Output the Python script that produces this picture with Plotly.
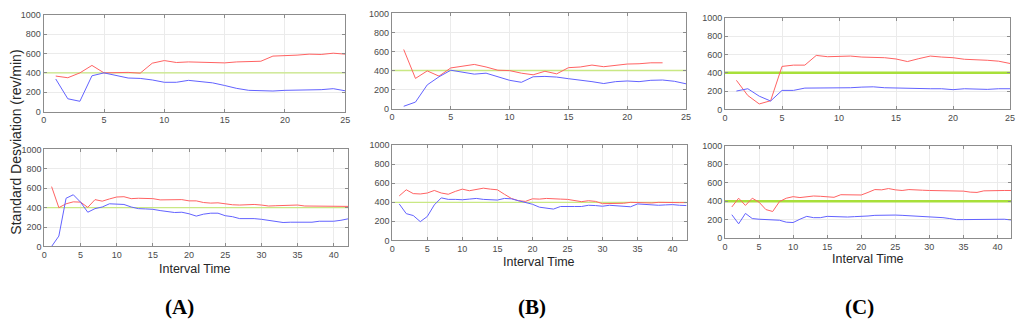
import plotly.graph_objects as go

# ---------------- data ----------------
x25 = list(range(1, 26))
x42 = list(range(1, 43))
x23 = list(range(1, 24))

a_top_red = [367, 350, 400, 477, 400, 400, 405, 397, 500, 527, 507, 513, 510, 510, 503, 513, 513, 520, 573, 577, 583, 593, 590, 603, 593]
a_top_blue = [337, 133, 107, 370, 400, 373, 347, 343, 327, 303, 303, 323, 313, 297, 270, 240, 220, 217, 213, 220, 220, 220, 227, 237, 215]

b_top_red = [621, 317, 396, 341, 427, 444, 464, 437, 403, 399, 372, 355, 392, 365, 430, 437, 457, 440, 457, 468, 471, 481, 481]
b_top_blue = [24, 68, 249, 334, 403, 379, 362, 372, 331, 297, 276, 334, 338, 331, 314, 300, 283, 263, 283, 290, 283, 297, 300, 287, 260]

c_top_red = [318, 152, 60, 95, 470, 484, 484, 590, 576, 576, 583, 572, 572, 565, 551, 523, 555, 583, 572, 565, 548, 544, 537, 527, 502]
c_top_blue = [201, 226, 145, 92, 208, 208, 233, 233, 240, 237, 237, 244, 247, 237, 233, 237, 230, 226, 226, 216, 226, 223, 219, 226, 226]

a_bot_red = [617, 400, 440, 460, 457, 403, 483, 467, 490, 510, 513, 493, 497, 497, 493, 480, 483, 483, 483, 470, 470,
             453, 447, 450, 437, 430, 427, 433, 433, 427, 417, 420, 420, 423, 427, 417, 417, 413, 417, 417, 413, 413]
a_bot_blue = [0, 107, 497, 533, 457, 353, 390, 407, 440, 433, 433, 407, 390, 387, 383, 370, 357, 350, 353, 337, 313,
              333, 343, 343, 317, 307, 287, 290, 287, 280, 270, 253, 247, 250, 250, 250, 250, 260, 260, 260, 270, 285]

b_bot_red = [468, 532, 492, 488, 498, 525, 498, 485, 515, 539, 522, 539, 549, 539, 532, 485, 441, 417, 410, 437, 434,
             441, 441, 434, 431, 417, 407, 417, 410, 386, 386, 386, 390, 400, 397, 390, 393, 400, 397, 397, 397, 397]
b_bot_blue = [383, 281, 261, 197, 251, 373, 447, 431, 431, 427, 434, 441, 431, 424, 424, 441, 437, 417, 400, 380, 349,
              339, 329, 356, 359, 356, 356, 369, 366, 359, 369, 363, 359, 353, 383, 376, 373, 369, 373, 376, 369, 366]

c_bot_red = [337, 432, 354, 432, 389, 309, 288, 396, 432, 449, 439, 446, 456, 453, 446, 442, 470, 467, 463, 467, 495,
             526, 523, 537, 523, 516, 526, 519, 519, 516, 516, 512, 512, 516, 509, 498, 495, 512, 516, 516, 516, 516]
c_bot_blue = [253, 154, 267, 211, 204, 200, 200, 193, 172, 168, 204, 235, 221, 221, 235, 232, 228, 228, 232, 232, 239,
              246, 249, 249, 249, 246, 242, 242, 239, 235, 228, 221, 211, 200, 200, 200, 200, 200, 204, 207, 204, 196]

threshold = 400
y_ticks = [0, 200, 400, 600, 800, 1000]
x_ticks_25 = [0, 5, 10, 15, 20, 25]
x_ticks_42 = [0, 5, 10, 15, 20, 25, 30, 35, 40]
panel_labels = ["(A)", "(B)", "(C)"]
y_title = "Standard Desviation (rev/min)"
x_title = "Interval Time"

# ---------------- layout geometry (pixels) ----------------
W, H = 1024, 330


def fx(px):
    return px / W


def fy(py):
    return 1 - py / H


# (x0, x1, ytop, ybottom) in pixels
panels = [
    dict(box=(41, 345, 10, 110), xmax=25, red=a_top_red, rx=x25, blue=a_top_blue, bx=x25, thick=False),
    dict(box=(392, 688.5, 8.7, 106.8), xmax=25, red=b_top_red, rx=x23, blue=b_top_blue, bx=x25, thick=False),
    dict(box=(727.7, 1015, 13.3, 107.7), xmax=25, red=c_top_red, rx=x25, blue=c_top_blue, bx=x25, thick=True),
    dict(box=(41.7, 347.9, 149, 249), xmax=42, red=a_bot_red, rx=x42, blue=a_bot_blue, bx=x42, thick=False),
    dict(box=(392.3, 689, 144.7, 242.7), xmax=42, red=b_bot_red, rx=x42, blue=b_bot_blue, bx=x42, thick=False),
    dict(box=(727.7, 1016, 145.3, 240.3), xmax=42, red=c_bot_red, rx=x42, blue=c_bot_blue, bx=x42, thick=True),
]

fig = go.Figure()
layout = dict(
    width=W, height=H,
    margin=dict(l=0, r=0, t=0, b=0),
    paper_bgcolor="white", plot_bgcolor="white",
    showlegend=False,
    font=dict(family="Liberation Sans, Arial, sans-serif", color="#404040"),
)

axis_common = dict(
    showline=True, linecolor="#8c8c8c", linewidth=1, mirror="allticks",
    ticks="inside", ticklen=3, tickcolor="#8c8c8c", tickwidth=1,
    showgrid=True, gridcolor="#ebebeb", gridwidth=1,
    zeroline=False, tickfont=dict(size=9, color="#4a4a4a"),
    ticklabeloverflow="allow",
    fixedrange=True,
)

for i, p in enumerate(panels):
    n = i + 1
    xa = "x" if n == 1 else f"x{n}"
    ya = "y" if n == 1 else f"y{n}"
    x0, x1, yt, yb = p["box"]
    layout["xaxis" if n == 1 else f"xaxis{n}"] = dict(
        axis_common, domain=[fx(x0), fx(x1)], range=[0, p["xmax"]],
        tickvals=x_ticks_25 if p["xmax"] == 25 else x_ticks_42, anchor=ya,
    )
    layout["yaxis" if n == 1 else f"yaxis{n}"] = dict(
        axis_common, domain=[fy(yb), fy(yt)], range=[0, 1000],
        tickvals=y_ticks, anchor=xa,
    )
    if p["thick"]:
        gcol, gw = "#a8e03a", 2.5
    else:
        gcol, gw = "#c9e884", 1.3
    fig.add_trace(go.Scatter(x=[0, p["xmax"]], y=[threshold, threshold], mode="lines",
                             line=dict(color=gcol, width=gw), xaxis=xa, yaxis=ya, hoverinfo="skip"))
    fig.add_trace(go.Scatter(x=p["rx"], y=p["red"], mode="lines",
                             line=dict(color="#ff6262", width=1), xaxis=xa, yaxis=ya))
    fig.add_trace(go.Scatter(x=p["bx"], y=p["blue"], mode="lines",
                             line=dict(color="#6262ff", width=1), xaxis=xa, yaxis=ya))

fig.update_layout(**layout)

annotations = []
# y-axis title
annotations.append(dict(text=y_title, x=fx(13), y=fy(141), xref="paper", yref="paper",
                        textangle=-90, showarrow=False, xanchor="center", yanchor="middle",
                        font=dict(size=14, color="#262626", family="Liberation Sans, Arial, sans-serif")))
# x-axis titles
for cx, cy in [(194, 272), (540, 265), (872, 262)]:
    annotations.append(dict(text=x_title, x=fx(cx), y=fy(cy), xref="paper", yref="paper",
                            showarrow=False, xanchor="center", yanchor="middle",
                            font=dict(size=12.5, color="#262626", family="Liberation Sans, Arial, sans-serif")))
# panel labels
for lab, cx in zip(panel_labels, [178, 533, 863]):
    annotations.append(dict(text="<b>" + lab + "</b>", x=fx(cx), y=fy(311), xref="paper", yref="paper",
                            showarrow=False, xanchor="center", yanchor="middle",
                            font=dict(size=21, color="black", family="Liberation Serif, Times New Roman, serif")))
fig.update_layout(annotations=annotations)

fig.write_html("out.html",
               config={"displayModeBar": False, "staticPlot": True},
               post_script="document.body.style.margin='0';document.body.style.overflow='hidden';")
